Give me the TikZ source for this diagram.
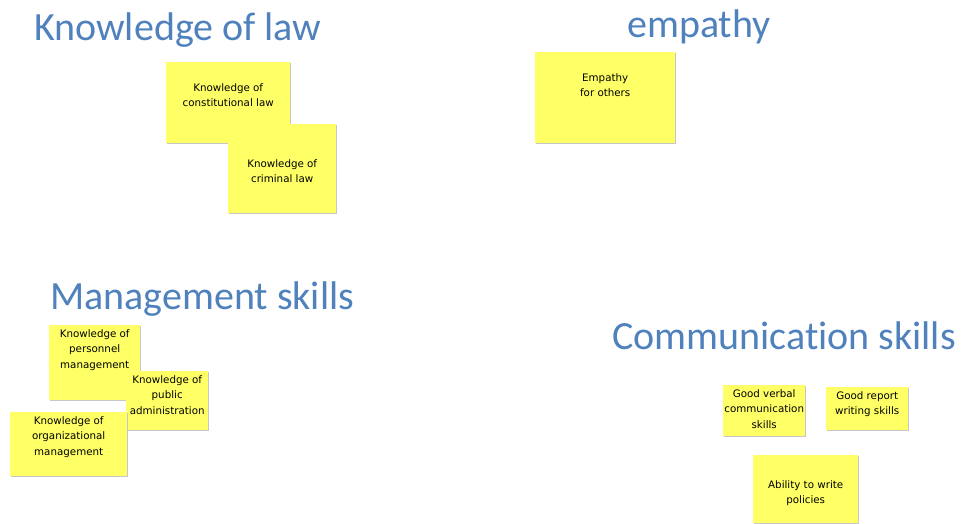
\documentclass[tikz,border=0pt]{standalone}
\usepackage{fontspec}
\setmainfont{DejaVu Sans}
\newfontfamily\headfont[Ligatures=NoCommon]{Carlito}
\usetikzlibrary{positioning,shadows}
\definecolor{stickyyellow}{HTML}{FFFF66}
\definecolor{headblue}{HTML}{4F81BD}

\begin{document}
\begin{tikzpicture}[x=1pt,y=-1pt,
    heading/.style={anchor=base west,inner sep=0,text=headblue,
      font=\headfont\fontsize{40}{48}\selectfont},
    sticky/.style={anchor=north west,inner sep=0,fill=stickyyellow,
      drop shadow={shadow xshift=1pt,shadow yshift=-1pt,fill=black!22,opacity=1}},
    scribble/.style={inner sep=0,align=center,font=\fontsize{10.3}{15.5}\selectfont}]
  \useasboundingbox (0,0) rectangle (961,523);

  % group headings
  \node[heading] at (34,40) (lawhead) {Knowledge of law};
  \node[heading] at (627,37) (empathyhead) {empathy};
  \node[heading] at (50,309) (mgmthead) {Management skills};
  \node[heading] at (612,349) (commhead) {Communication skills};

  % law
  \node[sticky,minimum width=124pt,minimum height=81pt] at (166,62) (constlaw) {};
  \node[scribble,below=21pt of constlaw.north] (constlawtext) {Knowledge of\\constitutional law};
  \node[sticky,minimum width=108pt,minimum height=89pt] at (228,124) (crimlaw) {};
  \node[scribble,below=35pt of crimlaw.north] (crimlawtext) {Knowledge of\\criminal law};

  % empathy
  \node[sticky,minimum width=140pt,minimum height=91pt] at (535,52) (empathy) {};
  \node[scribble,below=21pt of empathy.north] (empathytext) {Empathy\\for others};

  % management
  \node[sticky,minimum width=91pt,minimum height=75pt] at (49,325) (personnel) {};
  \node[scribble,below=4pt of personnel.north] (personneltext) {Knowledge of\\personnel\\management};
  \node[sticky,minimum width=82pt,minimum height=59pt] at (126,371) (pubadmin) {};
  \node[scribble,below=4pt of pubadmin.north] (pubadmintext) {Knowledge of\\public\\administration};
  \node[sticky,minimum width=117pt,minimum height=64pt] at (10,412) (orgmgmt) {};
  \node[scribble,below=4pt of orgmgmt.north] (orgmgmttext) {Knowledge of\\organizational\\management};

  % communication
  \node[sticky,minimum width=82pt,minimum height=51pt] at (723,385) (verbal) {};
  \node[scribble,below=4pt of verbal.north] (verbaltext) {Good verbal\\communication\\skills};
  \node[sticky,minimum width=82pt,minimum height=43pt] at (826,387) (report) {};
  \node[scribble,below=4pt of report.north] (reporttext) {Good report\\writing skills};
  \node[sticky,minimum width=105pt,minimum height=68pt] at (753,455) (policies) {};
  \node[scribble,below=25pt of policies.north] (policiestext) {Ability to write\\policies};
\end{tikzpicture}
\end{document}
